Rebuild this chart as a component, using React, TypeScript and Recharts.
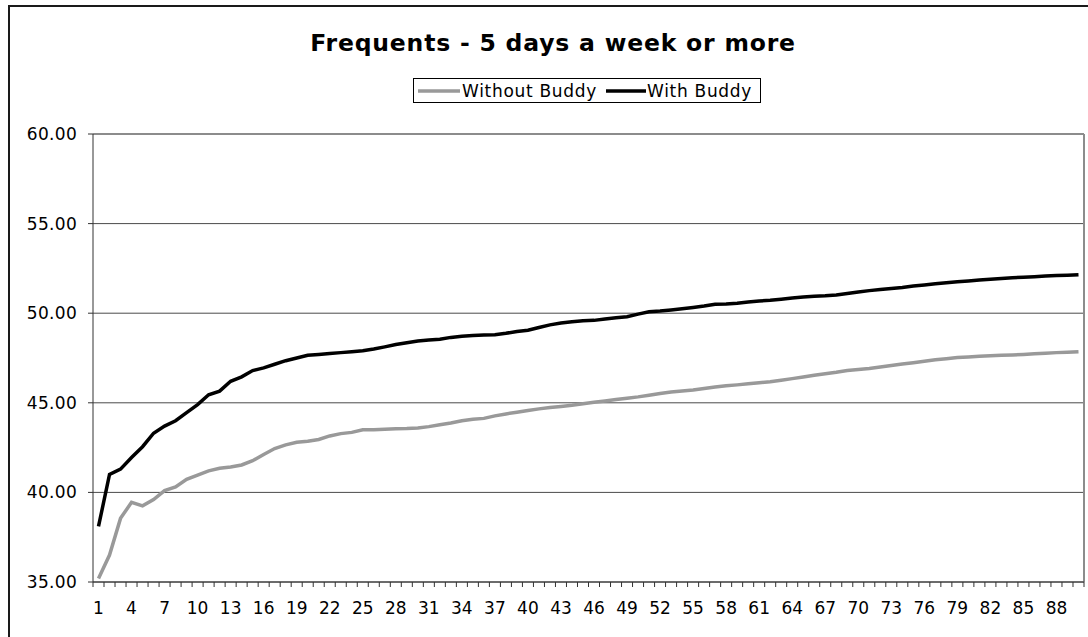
import React from 'react';
import { LineChart, Line, XAxis, YAxis, CartesianGrid, Legend, ReferenceLine } from 'recharts';

const categories: number[] = Array.from({ length: 90 }, (_, i) => i + 1);

const withoutBuddy: number[] = [
  35.2, 36.5, 38.55, 39.45, 39.25, 39.6, 40.1, 40.3, 40.73, 40.97,
  41.2, 41.35, 41.42, 41.53, 41.77, 42.12, 42.45, 42.65, 42.8, 42.85,
  42.95, 43.15, 43.28, 43.35, 43.5, 43.5, 43.52, 43.55, 43.56, 43.6,
  43.67, 43.78, 43.87, 44.0, 44.08, 44.13, 44.27, 44.38, 44.47, 44.57,
  44.66, 44.74, 44.8, 44.86, 44.95, 45.03, 45.1, 45.18, 45.26, 45.33,
  45.42, 45.52, 45.6, 45.66, 45.72, 45.8, 45.88, 45.95, 46.0, 46.06,
  46.12, 46.18, 46.26, 46.35, 46.44, 46.54, 46.62, 46.7, 46.8, 46.86,
  46.92, 47.0, 47.08, 47.16, 47.24, 47.32, 47.4, 47.46, 47.53, 47.56,
  47.6, 47.62, 47.65, 47.67, 47.7, 47.74, 47.77, 47.8, 47.82, 47.85,
];

const withBuddy: number[] = [
  38.1, 41.0, 41.3, 41.95, 42.55, 43.3, 43.7, 44.0, 44.45, 44.9,
  45.45, 45.65, 46.2, 46.45, 46.8, 46.95, 47.15, 47.35, 47.5, 47.65,
  47.7, 47.75, 47.8, 47.85, 47.9, 48.0, 48.12, 48.25, 48.35, 48.45,
  48.5, 48.55, 48.65, 48.72, 48.75, 48.78, 48.8, 48.88, 48.98, 49.05,
  49.2, 49.35, 49.45, 49.52, 49.58, 49.6, 49.68, 49.75, 49.8, 49.95,
  50.08, 50.12, 50.18, 50.25, 50.32, 50.4, 50.5, 50.52, 50.56, 50.62,
  50.68, 50.72, 50.78, 50.85, 50.9, 50.94, 50.97, 51.02, 51.1, 51.18,
  51.26, 51.32, 51.38, 51.44, 51.52, 51.58, 51.64, 51.7, 51.76, 51.8,
  51.85, 51.9, 51.94, 51.98, 52.0, 52.03, 52.07, 52.1, 52.12, 52.15,
];

const xTickLabels: number[] = [1, 4, 7, 10, 13, 16, 19, 22, 25, 28, 31, 34, 37, 40, 43, 46, 49, 52, 55, 58, 61, 64, 67, 70, 73, 76, 79, 82, 85, 88];
const yTicks: number[] = [35, 40, 45, 50, 55, 60];

const seriesNames = { without: 'Without Buddy', with: 'With Buddy' };
const seriesColors = { without: '#999999', with: '#000000' };

const data = categories.map((c, i) => ({ idx: c, without: withoutBuddy[i], with: withBuddy[i] }));
// category boundaries (tick marks sit between categories, labels at category centres)
const boundaries: number[] = [...categories.map((c) => c - 0.5), categories[categories.length - 1] + 0.5];

const FONT = '"DejaVu Sans", Verdana, sans-serif';

const CHART_W = 1088;
const CHART_H = 637;
const MARGIN = { top: 134, right: 4, bottom: 25, left: 0 };
const Y_AXIS_W = 93;

const XTick = (props: any) => {
  const { x, y, payload, visibleTicksCount, width } = props;
  const plotW = typeof width === 'number' && width > 0 ? width : CHART_W - MARGIN.left - MARGIN.right - Y_AXIS_W;
  const n = visibleTicksCount && visibleTicksCount > 1 ? visibleTicksCount - 1 : categories.length;
  const half = plotW / n / 2;
  const cat = payload.value + 0.5;
  if (!xTickLabels.includes(cat)) return <g />;
  return (
    <text x={x + half} y={y} dy="0.71em" textAnchor="middle" fontSize={17} fill="#000" fontFamily={FONT}>
      {cat}
    </text>
  );
};

const LegendBox = () => (
  <div
    style={{
      display: 'flex',
      alignItems: 'center',
      border: '1px solid #000',
      background: '#fff',
      height: 25,
      boxSizing: 'border-box',
      padding: '0 8px 0 4px',
      fontFamily: FONT,
      fontSize: 17,
      letterSpacing: 0.7,
      color: '#000',
      whiteSpace: 'nowrap',
    }}
  >
    <svg width={42} height={6} style={{ marginRight: 2 }}>
      <line x1={0} y1={3} x2={42} y2={3} stroke={seriesColors.without} strokeWidth={3.5} />
    </svg>
    <span>{seriesNames.without}</span>
    <svg width={40} height={6} style={{ marginLeft: 9, marginRight: 1 }}>
      <line x1={0} y1={3} x2={40} y2={3} stroke={seriesColors.with} strokeWidth={3.5} />
    </svg>
    <span>{seriesNames.with}</span>
  </div>
);

export default function App() {
  return (
    <div style={{ position: 'absolute', left: 0, top: 0, width: CHART_W, height: CHART_H, overflow: 'hidden', background: '#fff' }}>
      <div
        style={{
          position: 'absolute',
          left: 8,
          top: 5,
          width: 1200,
          height: 800,
          border: '2px solid #1a1a1a',
          boxSizing: 'border-box',
        }}
      />
      <div
        style={{
          position: 'absolute',
          left: 253,
          top: 31,
          width: 600,
          textAlign: 'center',
          fontFamily: FONT,
          fontWeight: 'bold',
          fontSize: 23.5,
          lineHeight: '24px',
          letterSpacing: 0.8,
          color: '#000',
          whiteSpace: 'nowrap',
        }}
      >
        Frequents - 5 days a week or more
      </div>
      <div style={{ position: 'absolute', left: 0, top: 0 }}>
        <LineChart width={CHART_W} height={CHART_H} data={data} margin={MARGIN}>
          <CartesianGrid vertical={false} stroke="#4a4a4a" strokeWidth={1} />
          <XAxis
            dataKey="idx"
            type="number"
            domain={[0.5, 90.5]}
            ticks={boundaries}
            interval={0}
            tick={<XTick />}
            tickSize={5}
            tickMargin={15}
            height={30}
            axisLine={{ stroke: '#333' }}
            tickLine={{ stroke: '#333' }}
          />
          <YAxis
            domain={[35, 60]}
            ticks={yTicks}
            interval={0}
            tickFormatter={(v: number) => v.toFixed(2)}
            width={Y_AXIS_W}
            tickSize={5}
            tickMargin={11}
            axisLine={{ stroke: '#333' }}
            tickLine={{ stroke: '#333' }}
            tick={{ fontSize: 17, fill: '#000', fontFamily: FONT, letterSpacing: 0.3 }}
          />
          <ReferenceLine y={60} stroke="#8c8c8c" strokeWidth={2} />
          <ReferenceLine x={90.5} stroke="#8c8c8c" strokeWidth={2} />
          <Legend
            layout="horizontal"
            verticalAlign="middle"
            align="center"
            content={() => <LegendBox />}
            wrapperStyle={{ top: 78, left: 413, width: 'auto', height: 'auto' }}
          />
          <Line
            type="linear"
            dataKey="without"
            name={seriesNames.without}
            stroke={seriesColors.without}
            strokeWidth={3.5}
            dot={false}
            activeDot={false}
            isAnimationActive={false}
          />
          <Line
            type="linear"
            dataKey="with"
            name={seriesNames.with}
            stroke={seriesColors.with}
            strokeWidth={3.5}
            dot={false}
            activeDot={false}
            isAnimationActive={false}
          />
        </LineChart>
      </div>
    </div>
  );
}
